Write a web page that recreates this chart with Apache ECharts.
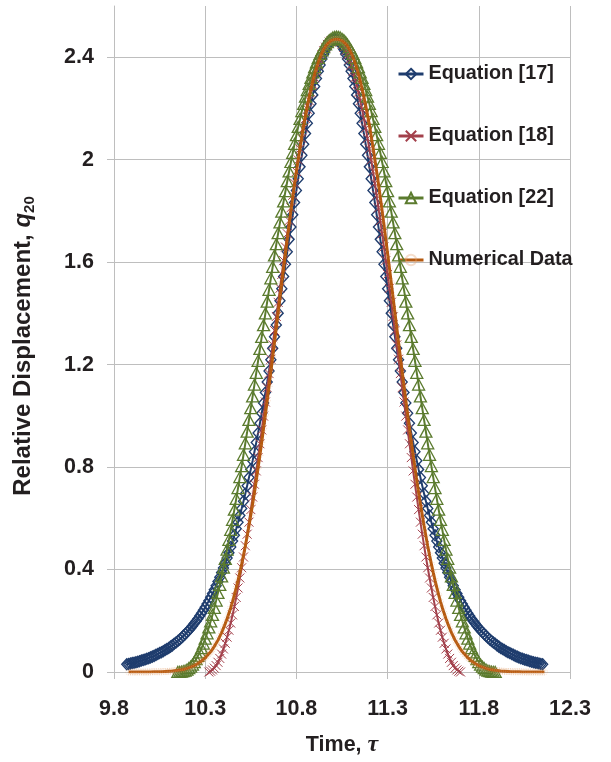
<!DOCTYPE html>
<html>
<head>
<meta charset="utf-8">
<script src="https://cdn.jsdelivr.net/npm/echarts@6/dist/echarts.min.js"></script>
<style>
html,body{margin:0;padding:0;background:#fff;}
#chart{width:611px;height:762px;}
</style>
</head>
<body>
<div id="chart"></div>
<script>
// ---- data (relative displacement q20 vs time tau), sampled every 0.01 ----
const tauStep = 0.01;
const xTicks = [9.8, 10.3, 10.8, 11.3, 11.8, 12.3];
const yTicks = [0, 0.4, 0.8, 1.2, 1.6, 2.0, 2.4];
const seriesNames = ['Equation [17]', 'Equation [18]', 'Equation [22]', 'Numerical Data'];

const eq17Start = 9.87;
const eq17 = [
0.030,0.031,0.033,0.035,0.036,0.038,0.040,0.042,0.045,0.047,0.049,0.052,0.054,0.057,0.060,
0.063,0.067,0.070,0.074,0.077,0.081,0.086,0.090,0.094,0.099,0.104,0.110,0.115,0.121,0.127,
0.134,0.141,0.148,0.155,0.163,0.171,0.180,0.189,0.198,0.208,0.219,0.229,0.241,0.253,0.265,
0.278,0.292,0.306,0.321,0.337,0.353,0.370,0.388,0.406,0.425,0.445,0.466,0.488,0.511,0.534,
0.559,0.585,0.611,0.638,0.667,0.696,0.727,0.759,0.791,0.825,0.860,0.896,0.933,0.971,1.010,
1.050,1.091,1.132,1.175,1.219,1.264,1.309,1.355,1.401,1.449,1.496,1.544,1.592,1.641,1.689,
1.737,1.785,1.833,1.880,1.926,1.972,2.017,2.060,2.102,2.142,2.181,2.218,2.253,2.286,2.317,
2.345,2.370,2.393,2.413,2.430,2.445,2.456,2.464,2.468,
2.470,
2.468,2.464,2.456,2.445,2.430,2.413,2.393,2.370,2.345,
2.317,2.286,2.253,2.218,2.181,2.142,2.102,2.060,2.017,1.972,
1.926,1.880,1.833,1.785,1.737,1.689,1.641,1.592,1.544,1.496,
1.449,1.401,1.355,1.309,1.264,1.219,1.175,1.132,1.091,1.050,
1.010,0.971,0.933,0.896,0.860,0.825,0.791,0.759,0.727,0.696,
0.667,0.638,0.611,0.585,0.559,0.534,0.511,0.488,0.466,0.445,
0.425,0.406,0.388,0.370,0.353,0.337,0.321,0.306,0.292,0.278,
0.265,0.253,0.241,0.229,0.219,0.208,0.198,0.189,0.180,0.171,
0.163,0.155,0.148,0.141,0.134,0.127,0.121,0.115,0.110,0.104,
0.099,0.094,0.090,0.086,0.081,0.077,0.074,0.070,0.067,0.063,
0.060,0.057,0.054,0.052,0.049,0.047,0.045,0.042,0.040,0.038,
0.036,0.035,0.033,0.031,0.030
];

const eq18Start = 10.32;
const eq18 = [
0.000,0.003,0.008,0.015,0.025,0.038,0.053,0.070,0.090,0.112,
0.136,0.163,0.191,0.223,0.256,0.291,0.328,0.367,0.407,0.449,
0.493,0.538,0.585,0.634,0.683,0.733,0.785,0.837,0.891,0.945,
0.999,1.054,1.110,1.165,1.221,1.277,1.333,1.388,1.443,1.498,
1.552,1.606,1.659,1.711,1.762,1.812,1.861,1.908,1.954,1.999,
2.042,2.083,2.123,2.161,2.197,2.231,2.263,2.293,2.320,2.346,
2.369,2.390,2.409,2.425,2.439,2.450,2.459,2.465,2.469,
2.470,
2.469,2.465,2.459,2.450,2.439,2.425,2.409,2.390,2.369,
2.346,2.320,2.293,2.263,2.231,2.197,2.161,2.123,2.083,2.042,
1.999,1.954,1.908,1.861,1.812,1.762,1.711,1.659,1.606,1.552,
1.498,1.443,1.388,1.333,1.277,1.221,1.165,1.110,1.054,0.999,
0.945,0.891,0.837,0.785,0.733,0.683,0.634,0.585,0.538,0.493,
0.449,0.407,0.367,0.328,0.291,0.256,0.223,0.191,0.163,0.136,
0.112,0.090,0.070,0.053,0.038,0.025,0.015,0.008,0.003,0.000
];

const eq22Start = 10.15;
const eq22 = [
0.000,0.000,0.001,0.003,0.005,0.009,0.015,0.021,0.029,0.039,
0.050,0.063,0.077,0.093,0.111,0.130,0.151,0.174,0.198,0.223,
0.250,0.279,0.309,0.340,0.373,0.407,0.442,0.478,0.516,0.555,
0.594,0.634,0.676,0.718,0.761,0.804,0.848,0.893,0.938,0.984,
1.030,1.076,1.122,1.168,1.215,1.261,1.308,1.354,1.400,1.446,
1.492,1.537,1.582,1.626,1.670,1.713,1.755,1.797,1.837,1.877,
1.916,1.954,1.991,2.027,2.062,2.096,2.128,2.159,2.190,2.218,
2.246,2.272,2.296,2.319,2.341,2.361,2.380,2.397,2.413,2.427,
2.439,2.450,2.459,2.467,2.472,2.477,2.479,
2.480,
2.479,2.477,2.472,2.467,2.459,2.450,2.439,2.427,2.413,
2.397,2.380,2.361,2.341,2.319,2.296,2.272,2.246,2.218,2.190,
2.159,2.128,2.096,2.062,2.027,1.991,1.954,1.916,1.877,1.837,
1.797,1.755,1.713,1.670,1.626,1.582,1.537,1.492,1.446,1.400,
1.354,1.308,1.261,1.215,1.168,1.122,1.076,1.030,0.984,0.938,
0.893,0.848,0.804,0.761,0.718,0.676,0.634,0.594,0.555,0.516,
0.478,0.442,0.407,0.373,0.340,0.309,0.279,0.250,0.223,0.198,
0.174,0.151,0.130,0.111,0.093,0.077,0.063,0.050,0.039,0.029,
0.021,0.015,0.009,0.005,0.003,0.001,0.000,0.000
];

const numStart = 9.88;
const numData = [
0.000,0.000,0.000,0.000,0.000,0.000,0.000,0.000,0.000,0.000,
0.000,0.000,0.000,0.001,0.001,0.001,0.001,0.001,0.001,0.002,
0.002,0.002,0.003,0.003,0.004,0.005,0.006,0.007,0.008,0.009,
0.010,0.012,0.014,0.016,0.019,0.022,0.025,0.029,0.033,0.038,
0.043,0.049,0.055,0.063,0.071,0.079,0.089,0.100,0.112,0.124,
0.139,0.154,0.171,0.189,0.208,0.229,0.251,0.275,0.301,0.329,
0.358,0.389,0.421,0.456,0.492,0.531,0.571,0.613,0.656,0.701,
0.748,0.797,0.847,0.898,0.951,1.005,1.060,1.116,1.172,1.230,
1.287,1.346,1.404,1.462,1.520,1.577,1.634,1.691,1.746,1.800,
1.853,1.905,1.954,2.002,2.048,2.092,2.135,2.174,2.211,2.246,
2.278,2.308,2.335,2.359,2.381,2.400,2.417,2.431,2.443,2.452,
2.459,2.465,2.468,2.470,
2.470,
2.470,2.468,2.465,2.459,2.452,2.443,2.431,2.417,2.400,2.381,
2.359,2.335,2.308,2.278,2.246,2.211,2.174,2.135,2.092,2.048,
2.002,1.954,1.905,1.853,1.800,1.746,1.691,1.634,1.577,1.520,
1.462,1.404,1.346,1.287,1.230,1.172,1.116,1.060,1.005,0.951,
0.898,0.847,0.797,0.748,0.701,0.656,0.613,0.571,0.531,0.492,
0.456,0.421,0.389,0.358,0.329,0.301,0.275,0.251,0.229,0.208,
0.189,0.171,0.154,0.139,0.124,0.112,0.100,0.089,0.079,0.071,
0.063,0.055,0.049,0.043,0.038,0.033,0.029,0.025,0.022,0.019,
0.016,0.014,0.012,0.010,0.009,0.008,0.007,0.006,0.005,0.004,
0.003,0.003,0.002,0.002,0.002,0.001,0.001,0.001,0.001,0.001,
0.001,0.000,0.000,0.000,0.000,0.000,0.000,0.000,0.000,0.000,
0.000,0.000,0.000,0.000
];

// ---- build (tau, value) pairs ----
function pairs(start, values) {
  return values.map((v, i) => [Math.round((start + i * tauStep) * 100) / 100, v]);
}

const FONT = 'Liberation Sans, Arial, Helvetica, sans-serif';
const C17 = '#1F3D6E', C18 = '#A3404B', C22 = '#5B7B2E', CNUM = '#B5590F';
const TXT = '#231F20', GRID = '#BEBEBE';

const chart = echarts.init(document.getElementById('chart'), null, {renderer: 'canvas'});

chart.setOption({
  animation: false,
  backgroundColor: '#ffffff',
  grid: {left: 114, right: 41, top: 6, bottom: 87, containLabel: false},
  legend: {
    orient: 'vertical',
    left: 392,
    top: 58,
    itemWidth: 25,
    itemHeight: 13,
    itemGap: 40,
    data: seriesNames,
    lineStyle: {width: 3},
    textStyle: {fontFamily: FONT, fontWeight: 'bold', fontSize: 19.8, color: TXT, lineHeight: 22}
  },
  xAxis: {
    type: 'value',
    min: 9.8, max: 12.3, interval: 0.5,
    name: '{a|Time, }{b|τ}',
    nameLocation: 'middle',
    nameGap: 61,
    nameTextStyle: {
      rich: {
        a: {fontFamily: FONT, fontWeight: 'bold', fontSize: 21.5, color: TXT},
        b: {fontFamily: 'Liberation Serif, Times New Roman, serif', fontStyle: 'italic', fontWeight: 'bold', fontSize: 24, color: TXT}
      }
    },
    axisLine: {show: true, lineStyle: {color: GRID, width: 1}},
    axisTick: {show: true, inside: false, length: 7, lineStyle: {color: GRID}, customValues: xTicks},
    axisLabel: {customValues: xTicks, margin: 26, fontFamily: FONT, fontWeight: 'bold', fontSize: 21.5, color: TXT,
      formatter: v => v.toFixed(1)},
    splitLine: {show: true, lineStyle: {color: GRID, width: 1}}
  },
  yAxis: {
    type: 'value',
    min: 0, max: 2.6, interval: 0.4,
    name: '{a|Relative Displacement, }{q|q}{s|20}',
    nameLocation: 'middle',
    nameGap: 77,
    nameTextStyle: {
      padding: [0, 14, 0, 0],
      rich: {
        a: {fontFamily: FONT, fontWeight: 'bold', fontSize: 24, color: TXT},
        q: {fontFamily: FONT, fontStyle: 'italic', fontWeight: 'bold', fontSize: 24, color: TXT},
        s: {fontFamily: FONT, fontWeight: 'bold', fontSize: 15, color: TXT, padding: [13, 0, 0, 0]}
      }
    },
    axisLine: {show: true, lineStyle: {color: GRID, width: 1}},
    axisTick: {show: true, inside: false, length: 7, lineStyle: {color: GRID}, customValues: yTicks},
    axisLabel: {customValues: yTicks, margin: 20, fontFamily: FONT, fontWeight: 'bold', fontSize: 21.5, color: TXT},
    splitLine: {show: true, lineStyle: {color: GRID, width: 1}}
  },
  series: [
    {
      name: seriesNames[0], type: 'line', data: pairs(eq17Start, eq17),
      symbol: 'diamond', symbolSize: [10, 11], showAllSymbol: true,
      itemStyle: {color: 'rgba(255,255,255,0)', borderColor: C17, borderWidth: 1.4},
      lineStyle: {color: C17, width: 2}, z: 2
    },
    {
      name: seriesNames[1], type: 'line', data: pairs(eq18Start, eq18),
      symbol: 'path://M0,0L10,10M10,0L0,10', symbolSize: 9, showAllSymbol: true,
      itemStyle: {color: 'rgba(255,255,255,0)', borderColor: C18, borderWidth: 1},
      lineStyle: {color: C18, width: 2}, z: 3
    },
    {
      name: seriesNames[2], type: 'line', data: pairs(eq22Start, eq22),
      symbol: 'triangle', symbolSize: [12, 11], showAllSymbol: true,
      itemStyle: {color: 'rgba(255,255,255,0)', borderColor: C22, borderWidth: 1.3},
      lineStyle: {color: C22, width: 2}, z: 4
    },
    {
      name: seriesNames[3], type: 'line', data: pairs(numStart, numData),
      symbol: 'circle', symbolSize: 6, showAllSymbol: true,
      itemStyle: {color: 'rgba(255,255,255,0)', borderColor: 'rgba(225,160,110,0.35)', borderWidth: 1, borderType: 'dotted'},
      lineStyle: {color: CNUM, width: 3}, z: 5
    }
  ]
});
</script>
</body>
</html>
